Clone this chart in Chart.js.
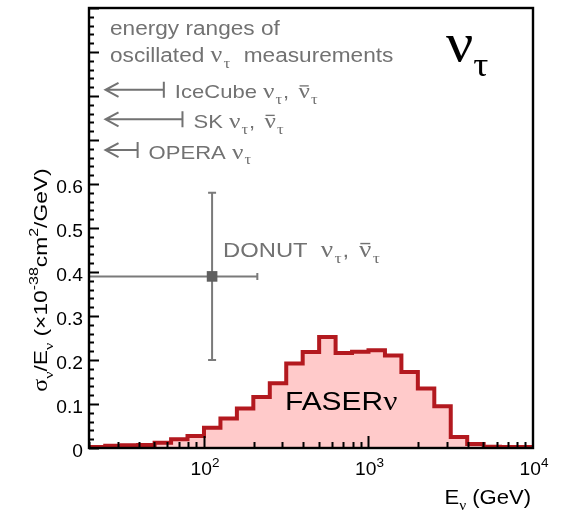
<!DOCTYPE html>
<html>
<head>
<meta charset="utf-8">
<script src="https://cdn.jsdelivr.net/npm/chart.js@4.4.1/dist/chart.umd.min.js"></script>
<style>
    body { margin: 0; background: #fff; }
    #myChart { display: block; }
</style>
</head>
<body>
<canvas id="myChart" width="562" height="511"></canvas>
<script>
// FASERnu tau-neutrino cross section / energy, bins of 0.1 in log10(E)
var binEdges = [20, 25.1, 31.6, 39.8, 50.1, 63.1, 79.4,
    100, 125.9, 158.5, 199.5, 251.2, 316.2, 398.1, 501.2, 631, 794.3,
    1000, 1258.9, 1584.9, 1995.3, 2511.9, 3162.3, 3981.1, 5011.9, 6309.6, 7943.3, 10000];
var fasernuXsec = [0.002, 0.005, 0.006, 0.007, 0.012, 0.020, 0.027,
    0.046, 0.067, 0.090, 0.116, 0.147, 0.192, 0.218, 0.252, 0.216, 0.219,
    0.222, 0.210, 0.173, 0.135, 0.095, 0.025, 0.009, 0.003, 0.002, 0.002];

// DONUT measurement: [energy, value], energy range, value range
var donutPoint = [112, 0.39];
var donutEnergyRange = [15, 211];
var donutXsecRange = [0.20, 0.58];

// energy ranges of oscillation measurements (arrows point to lower energies)
var rangeNames = ['IceCube', 'SK', 'OPERA'];
var rangeMaxGeV = [57, 74, 39.5];
var rangeArrowTipGeV = 25.2;
var rangeRowY = [0.814, 0.747, 0.677];
var rangeAntiNu = [true, true, false];

var yTickValues = [0, 0.1, 0.2, 0.3, 0.4, 0.5, 0.6];
var yTickLabels = ['0', '0.1', '0.2', '0.3', '0.4', '0.5', '0.6'];
var xTickValues = [100, 1000, 10000];
var xTickExponents = ['2', '3', '4'];

var SANS = '"Liberation Sans", Arial, Helvetica, sans-serif';
var SERIF = '"Liberation Serif", "Times New Roman", serif';
var GREY = '#727272';

// each point opens a bin, the last one closes the final bin
var histPoints = [];
for (var i = 0; i < fasernuXsec.length; i++) {
    histPoints.push({x: binEdges[i], y: fasernuXsec[i]});
}
histPoints.push({x: binEdges[binEdges.length - 1], y: fasernuXsec[fasernuXsec.length - 1]});

// text piece helper: t = text, f = family, k = size factor, dy = shift in em,
// bar = overline, pad = extra space after the piece in em
function seg(t, f, k, dy, bar, pad) {
    return {t: t, f: f || SANS, k: k || 1, dy: dy || 0, bar: !!bar, pad: pad || 0};
}
var nu = function(){ return seg('\u03bd', SERIF, 1.15, 0, false, 0.05); };
var nuBar = function(){ return seg('\u03bd', SERIF, 1.15, 0, true, 0.05); };
var tauSub = function(){ return seg('\u03c4', SERIF, 0.75, 0.3, false, 0.04); };
var comma = function(){ return seg(', ', SANS, 1, 0, false, 0.14); };

function drawRich(ctx, parts, x, y, size, opt) {
    opt = opt || {};
    ctx.save();
    ctx.translate(x, y);
    if (opt.rot) ctx.rotate(opt.rot);
    ctx.scale(opt.sx || 1.16, 1);
    ctx.fillStyle = opt.color || '#000';
    ctx.textBaseline = 'alphabetic';
    var w = 0;
    parts.forEach(function(p){
        ctx.font = (size * p.k).toFixed(1) + 'px ' + p.f;
        p.w = ctx.measureText(p.t).width;
        w += p.w + p.pad * size;
    });
    var cx = opt.align === 'right' ? -w : (opt.align === 'center' ? -w / 2 : 0);
    parts.forEach(function(p){
        ctx.font = (size * p.k).toFixed(1) + 'px ' + p.f;
        ctx.fillText(p.t, cx, p.dy * size);
        if (p.bar) {
            ctx.fillRect(cx + p.w * 0.1, -size * p.k * 0.6, p.w * 0.8, Math.max(1.2, size * 0.07));
        }
        cx += p.w + p.pad * size;
    });
    ctx.restore();
}

var framePlugin = {
    id: 'frame',
    beforeDatasetsDraw: function(chart){
        var ctx = chart.ctx, a = chart.chartArea;
        var xs = chart.scales.x, ys = chart.scales.y;
        ctx.save();
        ctx.beginPath();
        ctx.rect(a.left, a.top, a.right - a.left, a.bottom - a.top);
        ctx.clip();
        // DONUT error bars
        var px = xs.getPixelForValue(donutPoint[0]);
        var py = ys.getPixelForValue(donutPoint[1]);
        var yLo = ys.getPixelForValue(donutXsecRange[0]);
        var yHi = ys.getPixelForValue(donutXsecRange[1]);
        var xLo = xs.getPixelForValue(donutEnergyRange[0]);
        var xHi = xs.getPixelForValue(donutEnergyRange[1]);
        ctx.strokeStyle = '#7a7a7a';
        ctx.lineWidth = 2;
        ctx.beginPath();
        ctx.moveTo(px, yLo); ctx.lineTo(px, yHi);
        ctx.moveTo(px - 4, yLo); ctx.lineTo(px + 4, yLo);
        ctx.moveTo(px - 4, yHi); ctx.lineTo(px + 4, yHi);
        ctx.moveTo(xLo, py); ctx.lineTo(xHi, py);
        ctx.moveTo(xHi, py - 3.5); ctx.lineTo(xHi, py + 3.5);
        ctx.stroke();
        ctx.restore();
    },
    afterDatasetsDraw: function(chart){
        var ctx = chart.ctx, a = chart.chartArea;
        var xs = chart.scales.x, ys = chart.scales.y;
        ctx.save();

        // arrows for the oscillation measurements
        ctx.strokeStyle = GREY;
        ctx.lineWidth = 2;
        var tip = xs.getPixelForValue(rangeArrowTipGeV);
        rangeNames.forEach(function(name, i){
            var y = ys.getPixelForValue(rangeRowY[i]);
            var xe = xs.getPixelForValue(rangeMaxGeV[i]);
            ctx.beginPath();
            ctx.moveTo(tip, y); ctx.lineTo(xe, y);
            ctx.moveTo(xe, y - 8); ctx.lineTo(xe, y + 8);
            ctx.moveTo(tip + 13, y - 7); ctx.lineTo(tip, y); ctx.lineTo(tip + 13, y + 7);
            ctx.stroke();
            var parts = [seg(name + ' '), nu(), tauSub()];
            if (rangeAntiNu[i]) parts.push(comma(), nuBar(), tauSub());
            drawRich(ctx, parts, xe + 11, y + 8.5, 19, {color: GREY});
        });

        drawRich(ctx, [seg('energy ranges of')], 110, 35, 19.5, {color: GREY});
        drawRich(ctx, [seg('oscillated '), nu(), tauSub(), seg('  measurements')], 110, 62, 19.5, {color: GREY});

        // DONUT label
        drawRich(ctx, [seg('DONUT  '), nu(), tauSub(), comma(), nuBar(), tauSub()],
            xs.getPixelForValue(donutPoint[0]) + 11, 257, 20.5, {color: GREY});

        // FASERnu label
        drawRich(ctx, [seg('FASER'), seg('\u03bd', SERIF, 1.05)], 285, 410, 26.5, {color: '#000', sx: 1.13});

        // big nu_tau
        drawRich(ctx, [seg('\u03bd', SERIF, 1), seg('\u03c4', SERIF, 0.62, 0.28)], 446, 61, 54,
            {color: '#000', sx: 1.12});

        // inner ticks, y axis
        ctx.strokeStyle = '#000';
        ctx.lineWidth = 2;
        ctx.beginPath();
        for (var v = 0; v <= 50; v++) {
            var ty = Math.round(ys.getPixelForValue(v * 0.02)) + 0.5;
            var len = (v % 5 === 0) ? 10 : 5;
            ctx.moveTo(a.left, ty); ctx.lineTo(a.left + len, ty);
        }
        // inner ticks, log x axis
        for (var d = 10; d <= 1000; d *= 10) {
            for (var m = 1; m <= 9; m++) {
                var val = d * m;
                if (val < xs.min || val > xs.max) continue;
                var tx = Math.round(xs.getPixelForValue(val)) + 0.5;
                var tl = (m === 1) ? 12 : 6;
                ctx.moveTo(tx, a.bottom); ctx.lineTo(tx, a.bottom - tl);
            }
        }
        ctx.stroke();

        // frame
        ctx.lineWidth = 2.4;
        ctx.strokeRect(a.left, a.top, a.right - a.left, a.bottom - a.top);

        // tick labels
        yTickValues.forEach(function(v, i){
            drawRich(ctx, [seg(yTickLabels[i])], 83, ys.getPixelForValue(v) + 9, 17.5, {align: 'right', sx: 1.1});
        });
        xTickValues.forEach(function(v, i){
            drawRich(ctx, [seg('10'), seg(xTickExponents[i], SANS, 0.7, -0.45)], xs.getPixelForValue(v) + 1, 475, 17.5, {align: 'center', sx: 1.1});
        });

        // axis titles
        drawRich(ctx, [seg('E'), seg('\u03bd', SERIF, 0.7, 0.3), seg(' (GeV)')], 531, 504, 19.5, {align: 'right', sx: 1.13});
        drawRich(ctx, [seg('\u03c3', SERIF, 1.05), seg('\u03bd', SERIF, 0.7, 0.3), seg('/E'), seg('\u03bd', SERIF, 0.7, 0.3),
            seg(' (\u00d710'), seg('-38', SANS, 0.7, -0.45), seg('cm'), seg('2', SANS, 0.7, -0.45), seg('/GeV)')],
            47, 280, 19, {align: 'center', rot: -Math.PI / 2, sx: 1.2});

        ctx.restore();
    }
};

var ctx = document.getElementById('myChart').getContext('2d');
var myChart = new Chart(ctx, {
    type: 'line',
    data: {
        datasets: [{
            data: histPoints,
            stepped: 'before',
            fill: 'origin',
            borderColor: '#b3191f',
            backgroundColor: '#ffcaca',
            borderWidth: 4,
            borderJoinStyle: 'miter',
            pointRadius: 0
        }, {
            type: 'scatter',
            data: [{x: donutPoint[0], y: donutPoint[1]}],
            pointStyle: 'rect',
            pointRadius: 7.5,
            backgroundColor: '#5f5f5f',
            borderColor: '#5f5f5f',
            borderWidth: 0
        }]
    },
    options: {
        responsive: false,
        animation: false,
        devicePixelRatio: 1,
        layout: { padding: { top: 8, right: 29, left: 0, bottom: 0 } },
        plugins: { legend: { display: false }, tooltip: { enabled: false } },
        scales: {
            x: {
                type: 'logarithmic', min: 20, max: 10000,
                ticks: { display: false }, grid: { display: false }, border: { display: false },
                afterFit: function(scale){ scale.height = 63; }
            },
            y: {
                min: 0, max: 1,
                ticks: { display: false }, grid: { display: false }, border: { display: false },
                afterFit: function(scale){ scale.width = 89; }
            }
        }
    },
    plugins: [framePlugin]
});
</script>
</body>
</html>
